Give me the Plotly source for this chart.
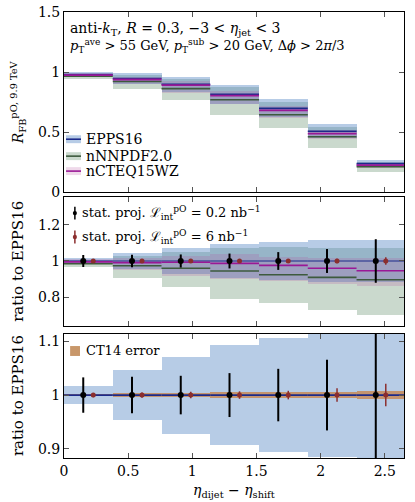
import plotly.graph_objects as go

# ---------------- data ----------------
bin_edges = [0.0, 0.38, 0.76, 1.14, 1.52, 1.90, 2.28, 2.66]

# top panel: R_FB
epps_c  = [0.980, 0.947, 0.898, 0.815, 0.698, 0.507, 0.238]
epps_hi = [0.997, 0.991, 0.963, 0.892, 0.773, 0.565, 0.266]
epps_lo = [0.963, 0.903, 0.832, 0.737, 0.623, 0.449, 0.210]
nnpdf_c  = [0.965, 0.922, 0.862, 0.770, 0.645, 0.461, 0.213]
nnpdf_hi = [0.985, 0.975, 0.941, 0.872, 0.751, 0.545, 0.255]
nnpdf_lo = [0.946, 0.860, 0.768, 0.644, 0.537, 0.370, 0.168]
ncteq_c  = [0.975, 0.938, 0.892, 0.804, 0.681, 0.487, 0.225]
ncteq_hi = [0.990, 0.961, 0.925, 0.845, 0.715, 0.516, 0.242]
ncteq_lo = [0.965, 0.900, 0.826, 0.734, 0.621, 0.444, 0.205]

# middle panel: ratio to EPPS16
r_epps_hi = [1.017, 1.046, 1.072, 1.094, 1.107, 1.115, 1.118]
r_epps_lo = [0.983, 0.954, 0.928, 0.906, 0.893, 0.885, 0.882]
r_nnpdf_c  = [0.985, 0.974, 0.960, 0.945, 0.924, 0.910, 0.897]
r_nnpdf_hi = [1.005, 1.030, 1.048, 1.070, 1.076, 1.074, 1.072]
r_nnpdf_lo = [0.965, 0.908, 0.855, 0.790, 0.770, 0.730, 0.705]
r_ncteq_c  = [0.995, 0.991, 0.993, 0.987, 0.976, 0.960, 0.946]
r_ncteq_hi = [1.010, 1.015, 1.030, 1.037, 1.024, 1.018, 1.018]
r_ncteq_lo = [0.985, 0.950, 0.920, 0.900, 0.890, 0.875, 0.860]

# statistical projections (ratio = 1)
stat_y = [1, 1, 1, 1, 1, 1, 1]
stat_err_02 = [0.033, 0.034, 0.036, 0.041, 0.049, 0.066, 0.120]
stat_err_6  = [0.004, 0.005, 0.006, 0.007, 0.008, 0.0125, 0.021]

# bottom panel: CT14 error
ct14_err = [0.002, 0.003, 0.004, 0.005, 0.005, 0.006, 0.008]

# ---------------- styles ----------------
FONT = "DejaVu Serif, serif"
C_EPPS_L = "#1c2a8a"
C_NN_L = "#3d5a3d"
C_CT_L = "#9a1896"
C_EPPS_B = "rgba(74,127,193,0.40)"
C_NN_B = "rgba(80,130,90,0.30)"
C_CT_B = "rgba(180,80,160,0.22)"
C_CT14 = "rgba(200,130,70,0.75)"
C_RED = "#8b2e2e"

centers = [(bin_edges[i] + bin_edges[i + 1]) / 2 for i in range(len(bin_edges) - 1)]
widths = [bin_edges[i + 1] - bin_edges[i] for i in range(len(bin_edges) - 1)]

fig = go.Figure()


def band(lo, hi, color, xa, ya):
    fig.add_trace(go.Bar(x=centers, y=[h - l for h, l in zip(hi, lo)], base=lo,
                         width=widths, marker=dict(color=color, line=dict(width=0)),
                         xaxis=xa, yaxis=ya, showlegend=False, hoverinfo="skip"))


def steps(vals, color, w, xa, ya):
    xs, ys = [], []
    for i, v in enumerate(vals):
        xs += [bin_edges[i], bin_edges[i + 1], None]
        ys += [v, v, None]
    fig.add_trace(go.Scatter(x=xs, y=ys, mode="lines", line=dict(color=color, width=w),
                             xaxis=xa, yaxis=ya, showlegend=False, hoverinfo="skip"))


def points(ax, ya):
    xb = [c - 0.04 for c in centers]
    xr = [c + 0.038 for c in centers]
    fig.add_trace(go.Scatter(x=xb, y=stat_y, mode="markers",
                             marker=dict(color="black", size=6),
                             error_y=dict(type="data", array=stat_err_02, color="black",
                                          thickness=2, width=0),
                             xaxis=ax, yaxis=ya, showlegend=False))
    fig.add_trace(go.Scatter(x=xr, y=stat_y, mode="markers",
                             marker=dict(color=C_RED, size=5),
                             error_y=dict(type="data", array=stat_err_6, color=C_RED,
                                          thickness=1.5, width=0),
                             xaxis=ax, yaxis=ya, showlegend=False))


# top panel
band(nnpdf_lo, nnpdf_hi, C_NN_B, "x", "y")
band(epps_lo, epps_hi, C_EPPS_B, "x", "y")
band(ncteq_lo, ncteq_hi, C_CT_B, "x", "y")
steps(nnpdf_c, C_NN_L, 1.6, "x", "y")
steps(epps_c, C_EPPS_L, 1.6, "x", "y")
steps(ncteq_c, C_CT_L, 1.8, "x", "y")

# middle panel
band(r_nnpdf_lo, r_nnpdf_hi, C_NN_B, "x2", "y2")
band(r_epps_lo, r_epps_hi, C_EPPS_B, "x2", "y2")
band(r_ncteq_lo, r_ncteq_hi, C_CT_B, "x2", "y2")
steps(r_nnpdf_c, C_NN_L, 1.6, "x2", "y2")
steps(stat_y, C_EPPS_L, 1.2, "x2", "y2")
steps(r_ncteq_c, C_CT_L, 1.6, "x2", "y2")
points("x2", "y2")

# bottom panel
band(r_epps_lo, r_epps_hi, C_EPPS_B, "x3", "y3")
band([1 - e for e in ct14_err], [1 + e for e in ct14_err], C_CT14, "x3", "y3")
steps(stat_y, C_EPPS_L, 1.8, "x3", "y3")
points("x3", "y3")

# ---------------- layout ----------------
xcommon = dict(range=[0, 2.65], tickvals=[0, 0.5, 1, 1.5, 2, 2.5],
               ticktext=["0", "0.5", "1", "1.5", "2", "2.5"], automargin=False,
               ticks="inside", ticklen=5, tickcolor="#555", showline=True, mirror="allticks",
               linecolor="black", linewidth=1, showgrid=False, zeroline=False,
               ticklabeloverflow="allow",
               tickfont=dict(family=FONT, size=14, color="black"))
ycommon = dict(ticks="inside", ticklen=5, tickcolor="#555", showline=True, mirror="allticks",
               linecolor="black", linewidth=1, showgrid=False, zeroline=False, automargin=False,
               ticklabeloverflow="allow",
               tickfont=dict(family=FONT, size=14, color="black"))

fig.update_layout(
    width=415, height=502,
    margin=dict(l=64, r=11, t=12, b=44, autoexpand=False),
    paper_bgcolor="white", plot_bgcolor="white",
    barmode="overlay", bargap=0, showlegend=False,
    font=dict(family=FONT, size=14, color="black"),
    xaxis=dict(xcommon, anchor="y", showticklabels=False),
    xaxis2=dict(xcommon, anchor="y2", showticklabels=False, matches="x"),
    xaxis3=dict(xcommon, anchor="y3", matches="x"),
    yaxis=dict(ycommon, anchor="x", domain=[0.596, 1], range=[0, 1.5],
               tickvals=[0, 0.5, 1, 1.5], ticktext=["0", "0.5", "1", "1.5"]),
    yaxis2=dict(ycommon, anchor="x2", domain=[0.296, 0.585], range=[0.642, 1.352],
                tickvals=[0.8, 1, 1.2], ticktext=["0.8", "1", "1.2"]),
    yaxis3=dict(ycommon, anchor="x3", domain=[0, 0.278], range=[0.8825, 1.114],
                tickvals=[0.9, 1, 1.1], ticktext=["0.9", "1", "1.1"]),
)

ann = []
# x title
ann.append(dict(text="<i>η</i><sub>dijet</sub> − <i>η</i><sub>shift</sub>", x=0.5, y=-0.074,
                xref="paper", yref="paper", showarrow=False, xanchor="center",
                yanchor="middle", font=dict(size=14)))
# y titles
ann.append(dict(text="<i>R</i><sub>FB</sub><sup>pO, 9.9 TeV</sup>", x=-0.135, y=0.798,
                xref="paper", yref="paper", textangle=-90, showarrow=False,
                xanchor="center", yanchor="middle", font=dict(size=14)))
ann.append(dict(text="ratio to EPPS16", x=-0.135, y=0.44, xref="paper", yref="paper",
                textangle=-90, showarrow=False, xanchor="center", yanchor="middle",
                font=dict(size=15)))
ann.append(dict(text="ratio to EPPS16", x=-0.135, y=0.139, xref="paper", yref="paper",
                textangle=-90, showarrow=False, xanchor="center", yanchor="middle",
                font=dict(size=15)))
# top text
ann.append(dict(text="anti-<i>k</i><sub>T</sub>, <i>R</i> = 0.3, −3 &lt; <i>η</i><sub>jet</sub> &lt; 3",
                x=0.012, y=0.906, xref="x domain", yref="y domain", showarrow=False,
                xanchor="left", yanchor="middle", font=dict(size=14)))
ann.append(dict(text="<i>p</i><sub>T</sub><sup>ave</sup> &gt; 55 GeV, <i>p</i><sub>T</sub><sup>sub</sup> &gt; 20 GeV, Δ<i>ϕ</i> &gt; 2<i>π</i>/3",
                x=0.012, y=0.812, xref="x domain", yref="y domain", showarrow=False,
                xanchor="left", yanchor="middle", font=dict(size=13)))

shapes = []
# top legend
leg = [("EPPS16", C_EPPS_B, C_EPPS_L, 0.294), ("nNNPDF2.0", C_NN_B, C_NN_L, 0.200),
       ("nCTEQ15WZ", C_CT_B, C_CT_L, 0.117)]
for name, bc, lc, yy in leg:
    shapes.append(dict(type="rect", xref="x domain", yref="y domain", x0=0.006, x1=0.05,
                       y0=yy - 0.022, y1=yy + 0.022, fillcolor=bc, line=dict(width=0)))
    shapes.append(dict(type="line", xref="x domain", yref="y domain", x0=0.006, x1=0.05,
                       y0=yy, y1=yy, line=dict(color=lc, width=1.6)))
    ann.append(dict(text=name, x=0.058, y=yy, xref="x domain", yref="y domain",
                    showarrow=False, xanchor="left", yanchor="middle", font=dict(size=14)))

# middle legend
mleg = [("stat. proj. ℒ<sub>int</sub><sup>pO</sup> = 0.2 nb<sup>−1</sup>", "black", 0.876),
        ("stat. proj. ℒ<sub>int</sub><sup>pO</sup> = 6 nb<sup>−1</sup>", C_RED, 0.69)]
for name, col, yy in mleg:
    shapes.append(dict(type="line", xref="x2 domain", yref="y2 domain", x0=0.032, x1=0.032,
                       y0=yy - 0.05, y1=yy + 0.05, line=dict(color=col, width=1.5)))
    shapes.append(dict(type="circle", xref="x2 domain", yref="y2 domain", x0=0.026, x1=0.038,
                       y0=yy - 0.017, y1=yy + 0.017, fillcolor=col, line=dict(width=0)))
    ann.append(dict(text=name, x=0.046, y=yy, xref="x2 domain", yref="y2 domain",
                    showarrow=False, xanchor="left", yanchor="middle", font=dict(size=13)))

# bottom legend
shapes.append(dict(type="rect", xref="x3 domain", yref="y3 domain", x0=0.018, x1=0.047,
                   y0=0.823, y1=0.903, fillcolor="#c8976a", line=dict(width=0)))
ann.append(dict(text="CT14 error", x=0.058, y=0.863, xref="x3 domain", yref="y3 domain",
                showarrow=False, xanchor="left", yanchor="middle", font=dict(size=13)))

fig.update_layout(annotations=ann, shapes=shapes)
fig.write_html("out.html", config={"displayModeBar": False, "staticPlot": True},
               post_script="document.body.style.margin='0';document.body.style.overflow='hidden';")
